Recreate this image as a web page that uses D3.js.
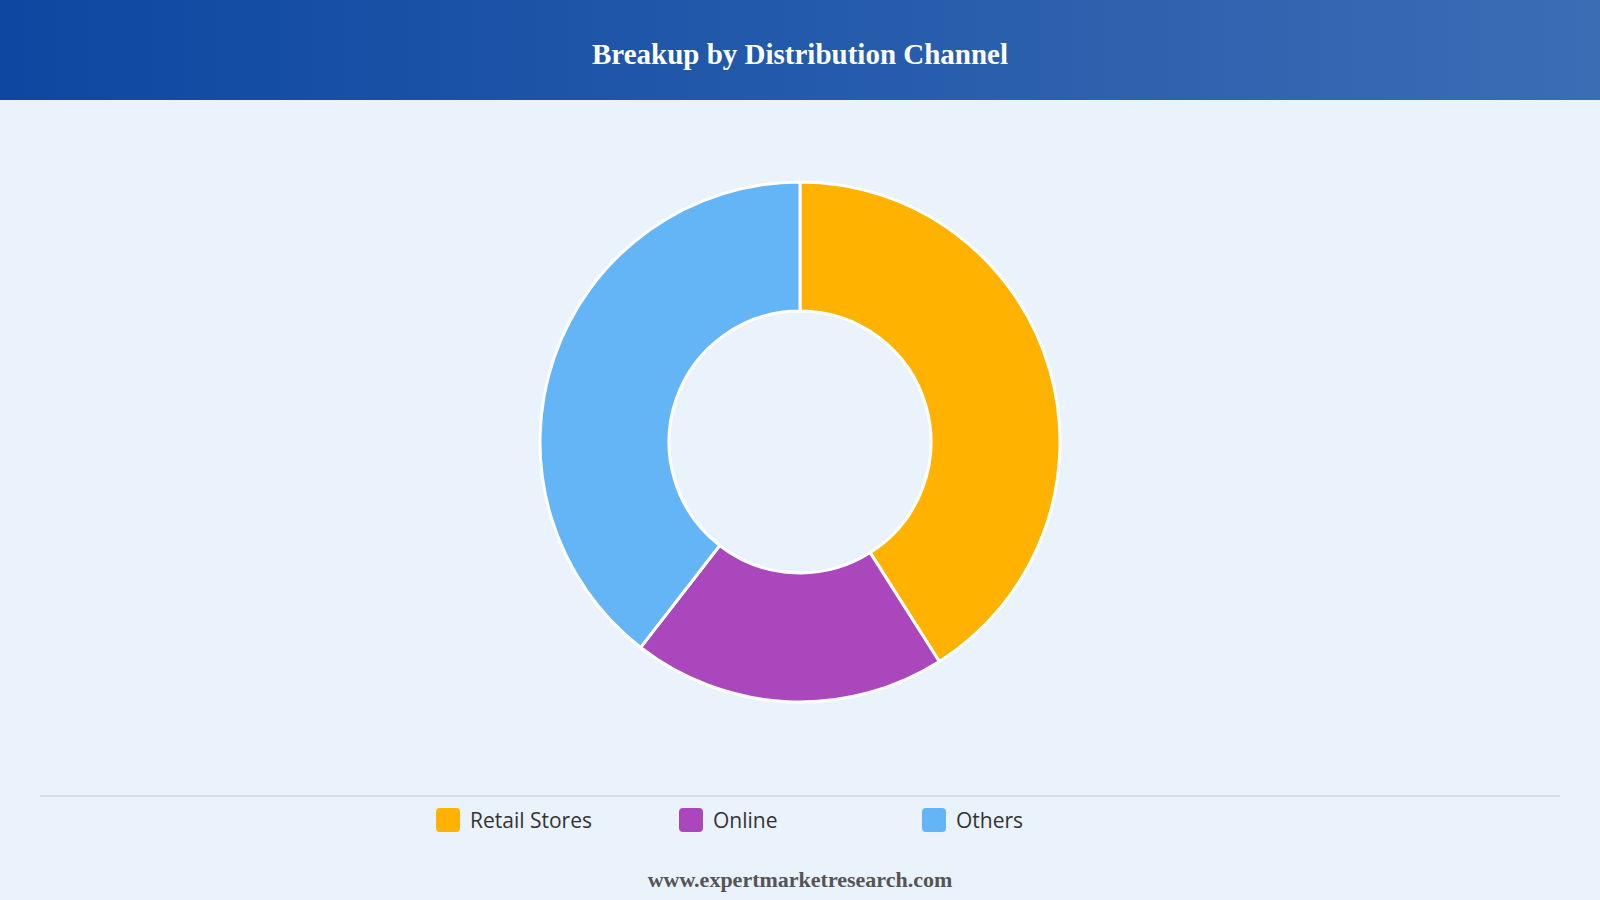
<!DOCTYPE html>
<html><head><meta charset="utf-8">
<script src="https://cdn.jsdelivr.net/npm/d3@7"></script>
<style>body{margin:0;background:#eaf2fb;}svg{display:block}</style>
</head><body>
<svg id="c" width="1600" height="900"></svg>
<script>
const categories = ["Retail Stores", "Online", "Others"];
const values = [41, 19.5, 39.5];
const colors = ["#ffb300", "#ab47bc", "#64b5f6"];

const svg = d3.select("#c");
const defs = svg.append("defs");
const g = defs.append("linearGradient").attr("id","hg");
g.append("stop").attr("offset","0%").attr("stop-color","#0d47a1");
g.append("stop").attr("offset","100%").attr("stop-color","#3b6db5");
svg.append("rect").attr("width",1600).attr("height",900).attr("fill","#eaf2fb");
svg.append("rect").attr("width",1600).attr("height",100).attr("fill","url(#hg)");
svg.append("text").attr("x",800).attr("y",64).attr("text-anchor","middle")
  .attr("fill","#fff").attr("font-family","Liberation Serif, serif").attr("font-weight","bold")
  .attr("font-size",29).text("Breakup by Distribution Channel");

const pie = d3.pie().sort(null).value(d=>d)(values);
const arc = d3.arc().innerRadius(131).outerRadius(260);
const cg = svg.append("g").attr("transform","translate(800,442)");
cg.selectAll("path").data(pie).join("path").attr("d",arc)
  .attr("fill",(d,i)=>colors[i]).attr("stroke","#fff").attr("stroke-width",3);

svg.append("line").attr("x1",40).attr("x2",1560).attr("y1",796).attr("y2",796)
  .attr("stroke","#d0d4d8").attr("stroke-width",1.5);
const x = d3.scalePoint().domain(categories).range([436,922]);
const lg = svg.selectAll("g.l").data(categories).join("g").attr("class","l")
  .attr("transform",d=>`translate(${x(d)},820)`);
lg.append("rect").attr("x",0).attr("y",-12).attr("width",24).attr("height",24).attr("rx",4)
  .attr("fill",(d,i)=>colors[i]);
lg.append("text").attr("x",34).attr("y",8).attr("font-family","Open Sans, sans-serif")
  .attr("font-size",21).attr("fill","#333").text(d=>d);

svg.append("text").attr("x",800).attr("y",887).attr("text-anchor","middle")
  .attr("font-family","Liberation Serif, serif").attr("font-weight","bold")
  .attr("font-size",22).attr("fill","#555").text("www.expertmarketresearch.com");
</script></body></html>
